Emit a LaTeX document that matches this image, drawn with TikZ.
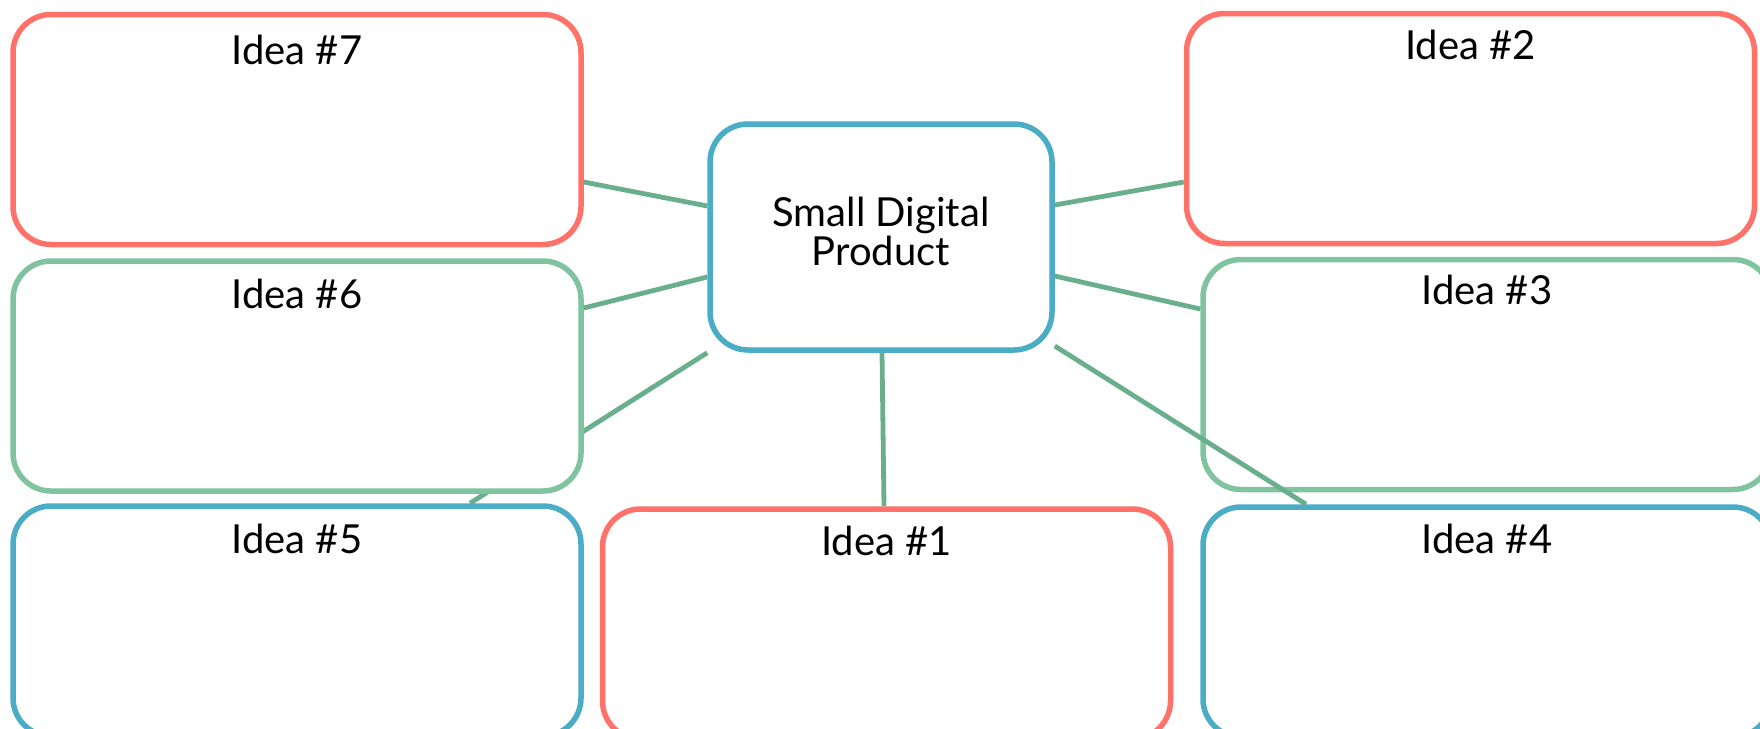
\documentclass[tikz,border=0pt]{standalone}
\usepackage{fontspec}
\setmainfont{Lato}
\usetikzlibrary{calc,backgrounds}
\definecolor{ideared}{HTML}{FF7169}
\definecolor{ideablue}{HTML}{4BACC6}
\definecolor{ideagreen}{HTML}{7FC49F}
\definecolor{linkgreen}{HTML}{6AAF8D}
\begin{document}
\begin{tikzpicture}[x=0.5pt,y=-0.5pt,
  box/.style={draw, fill=white, line width=2.75pt, rounded corners=19pt, inner sep=0pt,
    minimum width=284pt, minimum height=115pt},
  lbl/.style={anchor=base, inner sep=0pt, font=\fontsize{20pt}{19.5pt}\selectfont, text=black},
  link/.style={draw=linkgreen, line width=2.4pt}]
\clip (0,0) rectangle (1760,728);
% idea boxes
\node[box, draw=ideared]   (b7) at (297,129.5) {};
\node[box, draw=ideared]   (b2) at (1470.5,128.5) {};
\node[box, draw=ideagreen] (b6) at (297,376) {};
\node[box, draw=ideagreen] (b3) at (1487,374.5) {};
\node[box, draw=ideablue]  (b5) at (297,621) {};
\node[box, draw=ideared]   (b1) at (886.5,624) {};
\node[box, draw=ideablue]  (b4) at (1487,622) {};
\node[box, draw=ideablue, minimum width=171pt, minimum height=113pt] (c) at (881,237) {};
% labels
\node[lbl] (t7) at ($(b7.north)+(0,53)$) {Idea \#7};
\node[lbl] (t2) at ($(b2.north)+(0,49)$) {Idea \#2};
\node[lbl] (t6) at ($(b6.north)+(0,50)$) {Idea \#6};
\node[lbl] (t3) at ($(b3.north)+(0,48)$) {Idea \#3};
\node[lbl] (t5) at ($(b5.north)+(0,50)$) {Idea \#5};
\node[lbl] (t1) at ($(b1.north)+(0,49)$) {Idea \#1};
\node[lbl] (t4) at ($(b4.north)+(0,49)$) {Idea \#4};
\node[lbl, align=center] (ct) at ($(c.north)+(0,144)$) {Small Digital\\Product};
% connectors
\begin{scope}[on background layer]
\draw[link] (c.south west) -- ($(b5.north)+(173,0)$);
\end{scope}
\draw[link] ($(c.west)+(0,-31)$) -- ($(b7.east)+(0,52.5)$);
\draw[link] ($(c.west)+(0,40)$) -- ($(b6.east)+(0,-68)$);
\draw[link] ($(c.south)+(1,0)$) -- ($(b1.north)+(-2.5,0)$);
\draw[link] ($(c.east)+(0,-32)$) -- ($(b2.west)+(0,53.5)$);
\draw[link] ($(c.east)+(0,39)$) -- ($(b3.west)+(0,-65.5)$);
\draw[link] ($(c.east)+(0,109)$) -- ($(b4.north)+(-181,0)$);
\end{tikzpicture}
\end{document}
